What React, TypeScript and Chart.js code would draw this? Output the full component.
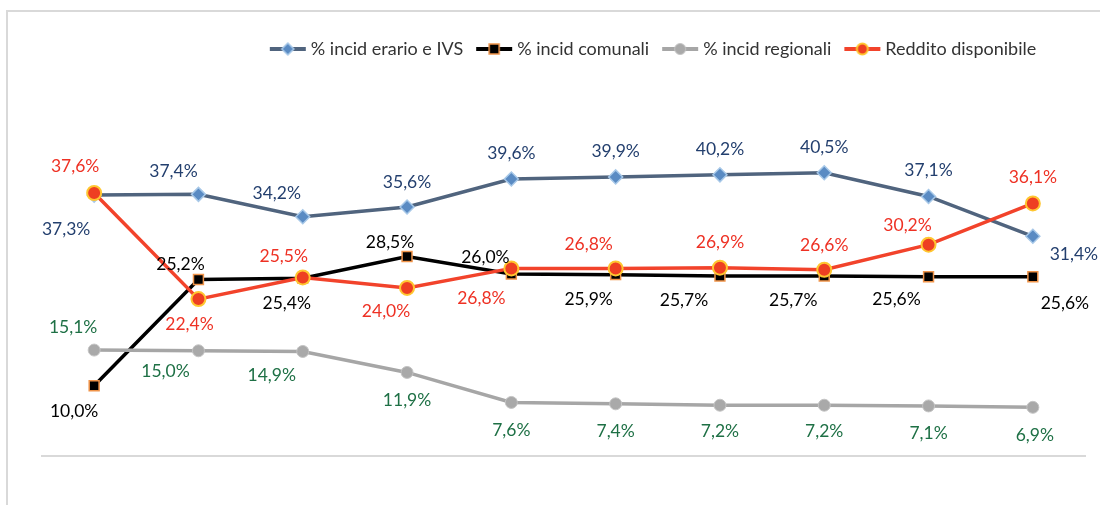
import React, { useEffect, useRef } from "react";
import { Chart, registerables } from "chart.js";

Chart.register(...registerables);

// ---- Data ----
const categories = ["1", "2", "3", "4", "5", "6", "7", "8", "9", "10"];
const seriesLabels = [
  "% incid erario e IVS",
  "% incid comunali",
  "% incid regionali",
  "Reddito disponibile",
];
const erarioIvs = [37.3, 37.4, 34.2, 35.6, 39.6, 39.9, 40.2, 40.5, 37.1, 31.4];
const comunali = [10.0, 25.2, 25.4, 28.5, 26.0, 25.9, 25.7, 25.7, 25.6, 25.6];
const regionali = [15.1, 15.0, 14.9, 11.9, 7.6, 7.4, 7.2, 7.2, 7.1, 6.9];
const reddito = [37.6, 22.4, 25.5, 24.0, 26.8, 26.8, 26.9, 26.6, 30.2, 36.1];

// ---- Styling ----
const FONT = "Lato, 'Open Sans', sans-serif";
const LABEL_COLORS = ["#233f6e", "#000000", "#1e7045", "#ee3124"];
// label offsets (dx, dy) relative to each point, per series
const LABEL_OFFSETS: number[][][] = [
  [[-28, 34], [-25, -23], [-26, -23], [0, -25], [0, -26], [0, -26], [0, -25], [0, -25], [0, -26], [41, 18]],
  [[-20, 26], [-18, -15], [-16, 25], [-17, -14], [-26, -17], [-27, 25], [-36, 24], [-31, 24], [-32, 23], [32, 27]],
  [[-21, -23], [-33, 21], [-31, 24], [0, 28], [0, 28], [0, 28], [0, 26], [0, 26], [0, 27], [2, 28]],
  [[-19, -27], [-9, 25], [-19, -21], [-21, 23], [-30, 30], [-27, -24], [0, -25], [0, -24], [-21, -19], [0, -26]],
];

const STYLES = [
  { line: "#50647e", fill: "#5a8bc3", border: "#a7c8e8", shape: "rectRot", radius: 7, bw: 1.5 },
  { line: "#000000", fill: "#000000", border: "#f0944a", shape: "rect", radius: 7, bw: 1.5 },
  { line: "#a6a6a6", fill: "#a9a9a9", border: "#c4c4c4", shape: "circle", radius: 6, bw: 1 },
  { line: "#f2432b", fill: "#ee3f22", border: "#ffc630", shape: "circle", radius: 7, bw: 2 },
];

function makeIcon(i: number): HTMLCanvasElement {
  const s = STYLES[i];
  const c = document.createElement("canvas");
  c.width = 38;
  c.height = 16;
  const ctx = c.getContext("2d")!;
  ctx.strokeStyle = s.line;
  ctx.lineWidth = 4;
  ctx.beginPath();
  ctx.moveTo(1, 8);
  ctx.lineTo(37, 8);
  ctx.stroke();
  ctx.fillStyle = s.fill;
  ctx.strokeStyle = s.border;
  ctx.lineWidth = s.bw;
  ctx.beginPath();
  if (s.shape === "rectRot") {
    ctx.moveTo(19, 2);
    ctx.lineTo(25, 8);
    ctx.lineTo(19, 14);
    ctx.lineTo(13, 8);
    ctx.closePath();
  } else if (s.shape === "rect") {
    ctx.rect(14, 3, 10, 10);
  } else {
    ctx.arc(19, 8, 5.5, 0, Math.PI * 2);
  }
  ctx.fill();
  ctx.stroke();
  return c;
}

const fmt = (v: number) => v.toFixed(1).replace(".", ",") + "%";

const labelPlugin = {
  id: "pointLabels",
  afterDatasetsDraw(chart: any) {
    const ctx = chart.ctx;
    ctx.save();
    ctx.font = `17.5px ${FONT}`;
    ctx.textAlign = "center";
    ctx.textBaseline = "middle";
    chart.data.datasets.forEach((ds: any, di: number) => {
      const meta = chart.getDatasetMeta(di);
      meta.data.forEach((pt: any, i: number) => {
        const [dx, dy] = LABEL_OFFSETS[di][i];
        ctx.fillStyle = LABEL_COLORS[di];
        ctx.fillText(fmt(ds.data[i]), pt.x + dx, pt.y + dy);
      });
    });
    ctx.restore();
  },
};

const legendShift = {
  id: "legendShift",
  afterLayout(chart: any) {
    const l = chart.legend;
    if (!l) return;
    const shift = 655 - (l.left + l.right) / 2;
    l.left += shift;
    l.right += shift;
  },
};

export default function App() {
  const ref = useRef<HTMLCanvasElement>(null);
  useEffect(() => {
    if (!ref.current) return;
    const icons = [0, 1, 2, 3].map(makeIcon);
    const seriesData = [erarioIvs, comunali, regionali, reddito];
    const chart = new Chart(ref.current, {
      type: "line",
      data: {
        labels: categories,
        datasets: seriesData.map((d, i) => ({
          label: seriesLabels[i],
          data: d,
          borderColor: STYLES[i].line,
          borderWidth: 3.5,
          backgroundColor: STYLES[i].fill,
          pointStyle: STYLES[i].shape as any,
          pointRadius: STYLES[i].radius,
          pointBackgroundColor: STYLES[i].fill,
          pointBorderColor: STYLES[i].border,
          pointBorderWidth: STYLES[i].bw,
          tension: 0,
          order: 4 - i,
        })),
      },
      options: {
        responsive: false,
        animation: false,
        events: [],
        layout: { autoPadding: false, padding: { left: 42, right: 15, top: 23, bottom: 41.5 } },
        scales: {
          x: {
            offset: true,
            grid: { display: false },
            ticks: { display: false },
            border: { display: true, color: "#d9d9d9", width: 2 },
          },
          y: { display: false, min: 0, max: 55.5 },
        },
        plugins: {
          tooltip: { enabled: false },
          legend: {
            position: "top",
            align: "center",
            labels: {
              usePointStyle: true,
              pointStyleWidth: 28,
              padding: 17,
              color: "#333333",
              font: { family: FONT, size: 18 },
              generateLabels: () =>
                seriesLabels.map((t, i) => ({
                  text: t,
                  pointStyle: icons[i],
                  fillStyle: "transparent",
                  strokeStyle: "transparent",
                  lineWidth: 0,
                  hidden: false,
                  datasetIndex: i,
                  fontColor: "#333333",
                })) as any,
            },
          },
        },
      },
      plugins: [labelPlugin, legendShift],
    });
    return () => chart.destroy();
  }, []);

  return (
    <div style={{ position: "fixed", left: 0, top: 0, width: 1100, height: 505, overflow: "hidden", background: "#fff" }}>
      <div
        style={{
          position: "absolute",
          left: 6,
          top: 10,
          width: 1094,
          height: 495,
          borderLeft: "2px solid #d9d9d9",
          borderTop: "2px solid #d9d9d9",
          boxSizing: "border-box",
        }}
      />
      <canvas ref={ref} width={1100} height={505} style={{ position: "absolute", left: 0, top: 0 }} />
    </div>
  );
}
